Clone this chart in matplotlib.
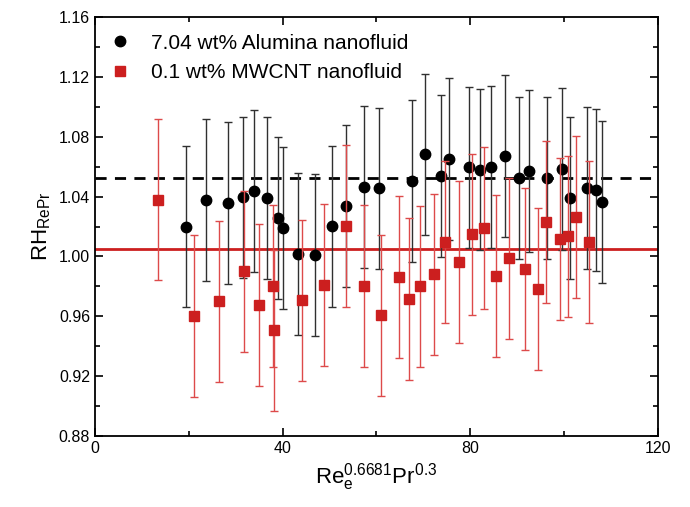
import matplotlib
matplotlib.use("Agg")
import matplotlib.pyplot as plt
from matplotlib.ticker import MultipleLocator, FormatStrFormatter
from matplotlib.lines import Line2D

plt.rcParams['font.family'] = ['Liberation Sans', 'DejaVu Sans']
plt.rcParams['mathtext.fontset'] = 'custom'
plt.rcParams['mathtext.rm'] = 'Liberation Sans'
plt.rcParams['mathtext.it'] = 'Liberation Sans'

# Alumina (black circles)
al_x = [19.4, 23.6, 28.4, 31.5, 33.8, 36.7, 39.0, 40.0,
        43.3, 46.8, 50.6, 53.5, 57.4, 60.6, 67.5, 70.4, 73.7, 75.5, 79.7, 82.0,
        84.5, 87.3, 90.4, 92.6, 96.3, 99.5, 101.3, 104.8, 106.7, 108.0]
al_y = [1.020, 1.0375, 1.0357, 1.0395, 1.0437, 1.0392, 1.0257, 1.0190,
        1.0018, 1.0011, 1.0201, 1.0337, 1.0462, 1.0455, 1.0504, 1.0682, 1.0539, 1.0649, 1.0595, 1.0580,
        1.0597, 1.0669, 1.0526, 1.0571, 1.0526, 1.0584, 1.0390, 1.0459, 1.0446, 1.0363]
al_err = [0.054] * len(al_x)
al_mean = 1.0522

# MWCNT (red squares)
cnt_x = [13.4, 21.0, 26.4, 31.8, 35.0, 38.0, 38.2,
         44.1, 48.9, 53.5, 57.3, 60.9, 64.8, 67.0, 69.2, 72.3, 74.5, 77.5, 80.4,
         82.9, 85.5, 88.3, 91.6, 94.5, 96.2, 99.2, 100.9, 102.6, 105.3]
cnt_y = [1.038, 0.9603, 0.970, 0.990, 0.9677, 0.9804, 0.9506,
         0.9706, 0.9809, 1.0203, 0.9804, 0.9606, 0.9864, 0.9715, 0.980, 0.988, 1.0098, 0.9964, 1.0147,
         1.0188, 0.9869, 0.9987, 0.9916, 0.9784, 1.0228, 1.0116, 1.0134, 1.0265, 1.0096]
cnt_err = [0.054] * len(cnt_x)
cnt_mean = 1.0047

labels = ['7.04 wt% Alumina nanofluid', '0.1 wt% MWCNT nanofluid']
red = '#cc1f1f'

fig = plt.figure(figsize=(6.9, 5.07), dpi=100)
ax = fig.add_axes([0.1377, 0.14, 0.8159, 0.8265])

ax.axhline(al_mean, color='black', lw=2, ls=(0, (4, 3)), zorder=1)
ax.axhline(cnt_mean, color=red, lw=2, zorder=1)

ax.errorbar(cnt_x, cnt_y, yerr=cnt_err, fmt='s', color=red, ms=6.5,
            ecolor='#dd4a4a', elinewidth=1, capsize=3, capthick=1, zorder=3)
ax.errorbar(al_x, al_y, yerr=al_err, fmt='o', color='black', ms=7.5,
            ecolor='#303030', elinewidth=1, capsize=3, capthick=1, zorder=2)

ax.set_xlim(0, 120)
ax.set_ylim(0.88, 1.16)
ax.xaxis.set_major_locator(MultipleLocator(40))
ax.xaxis.set_minor_locator(MultipleLocator(20))
ax.yaxis.set_major_locator(MultipleLocator(0.04))
ax.yaxis.set_minor_locator(MultipleLocator(0.02))
ax.yaxis.set_major_formatter(FormatStrFormatter('%.2f'))
ax.tick_params(which='both', direction='in', top=True, right=True, labelsize=11.5, width=1.2)
ax.tick_params(which='major', length=6)
ax.tick_params(which='minor', length=3.5)
for s in ax.spines.values():
    s.set_linewidth(1.3)

ax.set_xlabel(r'Re$_\mathregular{e}^\mathregular{0.6681}$Pr$^\mathregular{0.3}$', fontsize=16)
ax.set_ylabel(r'RH$_\mathregular{RePr}$', fontsize=16)

handles = [Line2D([], [], marker='o', ls='none', color='black', ms=7.5),
           Line2D([], [], marker='s', ls='none', color=red, ms=6.5)]
ax.legend(handles, labels, loc='upper left', frameon=False, fontsize=15,
          handlelength=0.8, handletextpad=1.1, borderaxespad=0.4, labelspacing=0.5)

fig.savefig('out.png', dpi=100)
